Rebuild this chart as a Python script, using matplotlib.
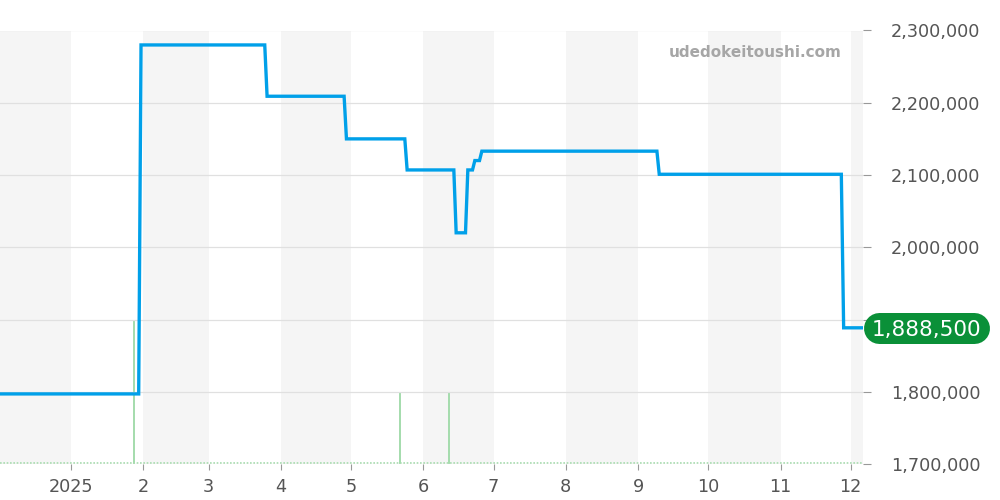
import datetime as dt
import matplotlib
matplotlib.use("Agg")
import matplotlib.pyplot as plt
from matplotlib.lines import Line2D
from matplotlib.transforms import IdentityTransform
from matplotlib.ticker import FixedLocator, FuncFormatter

# ---- data ----
price_dates = ["2024-12-01", "2025-01-30", "2025-01-31", "2025-03-25", "2025-03-26",
               "2025-04-28", "2025-04-29", "2025-05-24", "2025-05-25", "2025-06-14",
               "2025-06-15", "2025-06-19", "2025-06-20", "2025-06-22", "2025-06-23",
               "2025-06-25", "2025-06-26", "2025-09-09", "2025-09-10", "2025-11-27",
               "2025-11-28", "2025-12-07"]
price_values = [1797000, 1797000, 2280000, 2280000, 2209000,
                2209000, 2150000, 2150000, 2107000, 2107000,
                2020000, 2020000, 2107000, 2107000, 2120000,
                2120000, 2133000, 2133000, 2101000, 2101000,
                1888500, 1888500]
volume_dates = ["2025-01-28", "2025-05-22", "2025-06-12"]
volume_values = [2, 1, 1]
y_ticks = [1700000, 1800000, 1900000, 2000000, 2100000, 2200000, 2300000]
x_tick_months = [1, 2, 3, 4, 5, 6, 7, 8, 9, 10, 11, 12]
x_tick_labels = ["2025", "2", "3", "4", "5", "6", "7", "8", "9", "10", "11", "12"]
shade_months = [(2024, 12), (2025, 2), (2025, 4), (2025, 6), (2025, 8), (2025, 10), (2025, 12)]
last_label = "1,888,500"
watermark = "udedokeitoushi.com"

to_d = lambda s: dt.datetime.strptime(s, "%Y-%m-%d")

fig = plt.figure(figsize=(10, 5), dpi=100)
pos = [0.0, 0.072, 0.8633, 0.867]
ax = fig.add_axes(pos)
axv = ax.twinx()
ax.set_zorder(axv.get_zorder() + 1)
ax.patch.set_visible(False)

xmin = dt.datetime(2024, 12, 1, 14)
xmax = dt.datetime(2025, 12, 6, 10)

# shading
for (y, m) in shade_months:
    start = dt.datetime(y, m, 1)
    end = dt.datetime(y + (m // 12), m % 12 + 1, 1)
    axv.axvspan(start, end, color="#f5f5f5", zorder=0, lw=0)

# volume
vd = [to_d(s) for s in volume_dates]
axv.bar(vd, volume_values, width=0.9, color="#a6dcae", zorder=2)
axv.axhline(0.01, color="#a6dcae", lw=1.2, ls=(0, (1, 1)), zorder=2)
axv.set_ylim(0, 6)
axv.set_yticks([])
for s in axv.spines.values():
    s.set_visible(False)

# price
pd_ = [to_d(s) for s in price_dates]
ax.plot(pd_, price_values, color="#00a0e9", lw=2.4, zorder=3, solid_joinstyle="miter")
ax.set_xlim(xmin, xmax)
ax.set_ylim(1700000, 2300000)
ax.yaxis.tick_right()
ax.yaxis.set_major_locator(FixedLocator(y_ticks))
hidden = 1900000  # label covered by the last-value badge
ax.yaxis.set_major_formatter(FuncFormatter(lambda v, p: "" if int(v) == hidden else f"{int(v):,}"))
ax.grid(axis="y", color="#e0e0e0", lw=0.9, zorder=1)
ax.tick_params(axis="y", length=6, width=0.8, color="#999999", labelsize=12.7,
               labelcolor="#555555", pad=14)
ax.tick_params(axis="x", length=4, width=0.8, color="#999999", labelsize=12.7,
               labelcolor="#555555", pad=6)
ticks = [dt.datetime(2025, m, 1) for m in x_tick_months]
ax.set_xticks(ticks)
ax.set_xticklabels(x_tick_labels)
for s in ax.spines.values():
    s.set_visible(False)

# last value badge (pill shape drawn as a thick round-capped line, in pixels)
_, ypix = ax.transData.transform((ax.get_xlim()[1], price_values[-1]))
x0pix = ax.transAxes.transform((1.0, 0.0))[0]
bw, bh = 126, 31
r = bh / 2
pill = Line2D([x0pix + r, x0pix + bw - r], [ypix, ypix], lw=bh * 72 / fig.dpi,
              color="#0a9038", solid_capstyle="round", transform=IdentityTransform(),
              zorder=10)
fig.add_artist(pill)
fig.text((x0pix + bw / 2) / fig.bbox.width, ypix / fig.bbox.height, last_label,
         ha="center", va="center_baseline", fontsize=15.5, color="white", zorder=11)

# watermark
ax.text(0.9745, 0.95, watermark, transform=ax.transAxes, ha="right", va="center",
        fontsize=11, fontweight="bold", color="#a6a6a6", zorder=5)

fig.savefig("out.png", dpi=100)
